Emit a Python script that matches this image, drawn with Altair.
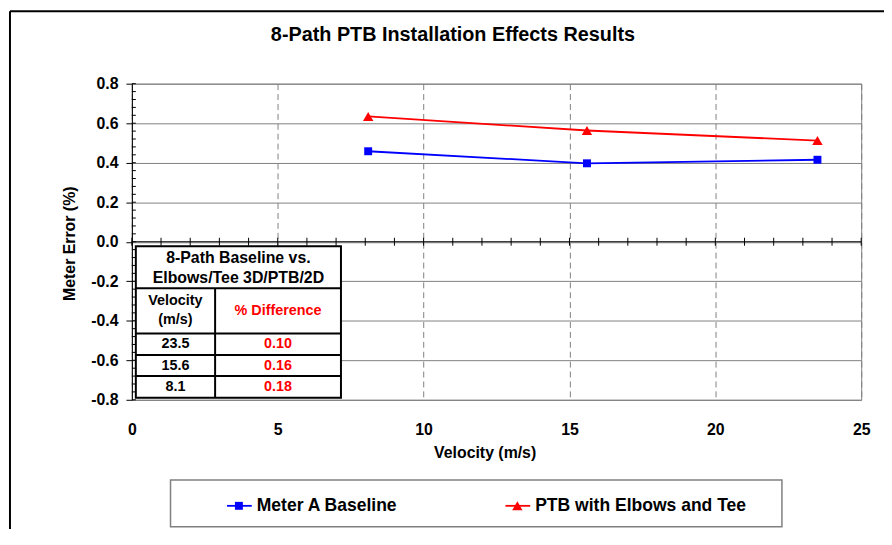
import altair as alt
import pandas as pd

# ---------------- data ----------------
velocity = [8.1, 15.6, 23.5]
meter_a = [0.458, 0.397, 0.415]
ptb = [0.634, 0.563, 0.512]
series_names = ["Meter A Baseline", "PTB with Elbows and Tee"]
series_colors = ["#0000FF", "#FF0000"]
series_shapes = ["square", "triangle-up"]
series_sizes = [64, 110]

table_title = ["8-Path Baseline vs.", "Elbows/Tee 3D/PTB/2D"]
table_head = ["Velocity", "(m/s)"]
table_head2 = "% Difference"
table_velocity = ["23.5", "15.6", "8.1"]
table_diff = ["0.10", "0.16", "0.18"]

x_ticks = [0, 5, 10, 15, 20, 25]
y_ticks = [-0.8, -0.6, -0.4, -0.2, 0.0, 0.2, 0.4, 0.6, 0.8]
x_minor = list(range(0, 26))
y_minor = [round(-0.8 + 0.04 * i, 2) for i in range(41)]

title_text = "8-Path PTB Installation Effects Results"
x_title = "Velocity (m/s)"
y_title = "Meter Error (%)"

W, H = 736, 319
FONT = "Liberation Sans"

df = pd.DataFrame({
    "v": velocity * 2,
    "err": meter_a + ptb,
    "series": [series_names[0]] * 3 + [series_names[1]] * 3,
})

xs = alt.Scale(domain=[0, 25], nice=False, zero=False)
ys = alt.Scale(domain=[-0.8, 0.8], nice=False, zero=False)
color = alt.Color("series:N", scale=alt.Scale(domain=series_names, range=series_colors), legend=None)
shape = alt.Shape("series:N", scale=alt.Scale(domain=series_names, range=series_shapes), legend=None)
size = alt.Size("series:N", scale=alt.Scale(domain=series_names, range=series_sizes), legend=None)

XAX = alt.Axis(
    values=x_ticks, title=x_title, grid=True, gridDash=[6, 4], gridColor="#808080",
    ticks=False, tickSize=0, domain=False, labelFont=FONT, labelFontSize=16,
    labelFontWeight="bold", labelPadding=22, labelFlush=False, labelColor="black",
    labelOverlap=False,
    titleFont=FONT, titleFontSize=16, titleFontWeight="bold", titleColor="black",
    titleX=356, titleY=53, titleBaseline="middle")
YAX = alt.Axis(
    values=y_ticks, title=y_title, grid=True, gridColor="#808080",
    labelExpr="(datum.value < -0.001 ? '-' : '') + format(abs(datum.value), '.1f')",
    domainColor="black", tickColor="black", tickSize=6, labelPadding=8,
    labelOverlap=False, labelFlush=False,
    labelFont=FONT, labelFontSize=16, labelFontWeight="bold", labelColor="black",
    titleFont=FONT, titleFontSize=16, titleFontWeight="bold", titleColor="black",
    titleX=-63, titleY=161, titleBaseline="middle", titleAlign="center")

one = pd.DataFrame({"a": [0]})

zero_line = alt.Chart(one).mark_rule(color="black", strokeWidth=1).encode(
    y=alt.datum(0, scale=ys, axis=YAX), x=alt.value(0), x2=alt.value(W))

xm = alt.Chart(pd.DataFrame({"t": x_minor})).mark_rule(
    color="black", strokeWidth=1, yOffset=-4, y2Offset=4).encode(
    x=alt.X("t:Q", scale=xs, axis=XAX), y=alt.datum(0, scale=ys, axis=YAX), y2=alt.datum(0))

ym = alt.Chart(pd.DataFrame({"t": y_minor})).mark_rule(
    color="black", strokeWidth=1, x2Offset=4).encode(
    y=alt.Y("t:Q", scale=ys, axis=YAX), x=alt.datum(0, scale=xs, axis=XAX), x2=alt.datum(0))

lines = alt.Chart(df).mark_line(strokeWidth=1.8).encode(
    x=alt.X("v:Q", scale=xs, axis=XAX), y=alt.Y("err:Q", scale=ys, axis=YAX),
    color=color, detail="series:N")
points = alt.Chart(df).mark_point(filled=True, opacity=1).encode(
    x=alt.X("v:Q", scale=xs, axis=XAX), y=alt.Y("err:Q", scale=ys, axis=YAX),
    color=color, shape=shape, size=size)

# ---------------- table ----------------
TX0, TX1, TY0, TY1 = 4, 211, 164, 317
COLX = 84
ROWY = [206.5, 252, 273.7, 295]

tbl_box = alt.Chart(one).mark_rect(fill="white", stroke="black", strokeWidth=2).encode(
    x=alt.value(TX0), x2=alt.value(TX1), y=alt.value(TY0), y2=alt.value(TY1))
hl = alt.Chart(pd.DataFrame({"yy": ROWY})).mark_rule(color="black", strokeWidth=2).encode(
    y=alt.Y("yy:Q", scale=None), x=alt.value(TX0), x2=alt.value(TX1))
vl = alt.Chart(one).mark_rule(color="black", strokeWidth=2).encode(
    x=alt.value(COLX), y=alt.value(ROWY[0]), y2=alt.value(TY1))

ttl = alt.Chart(pd.DataFrame({"t": table_title, "yy": [176, 196]})).mark_text(
    font=FONT, fontSize=16, fontWeight="bold", color="black", baseline="middle").encode(
    text="t:N", y=alt.Y("yy:Q", scale=None), x=alt.value((TX0 + TX1) / 2))
hd = alt.Chart(pd.DataFrame({"t": table_head, "yy": [219, 239]})).mark_text(
    font=FONT, fontSize=14.5, fontWeight="bold", color="black", baseline="middle").encode(
    text="t:N", y=alt.Y("yy:Q", scale=None), x=alt.value((TX0 + COLX) / 2))
hd2 = alt.Chart(one).mark_text(
    font=FONT, fontSize=14.5, fontWeight="bold", color="#FF0000", baseline="middle").encode(
    text=alt.value(table_head2), y=alt.value(229), x=alt.value((COLX + TX1) / 2))

tdf = pd.DataFrame({"vel": table_velocity, "diff": table_diff, "row": [0, 1, 2]})
tvals = alt.Chart(tdf).transform_calculate(
    yy=f"{(ROWY[1] + ROWY[2]) / 2} + datum.row * {(TY1 - ROWY[1]) / 3}")
tv1 = tvals.mark_text(font=FONT, fontSize=14.5, fontWeight="bold", color="black",
                      baseline="middle").encode(
    text="vel:N", y=alt.Y("yy:Q", scale=None), x=alt.value((TX0 + COLX) / 2))
tv2 = tvals.mark_text(font=FONT, fontSize=14.5, fontWeight="bold", color="#FF0000",
                      baseline="middle").encode(
    text="diff:N", y=alt.Y("yy:Q", scale=None), x=alt.value((COLX + TX1) / 2))

# ---------------- legend ----------------
leg_box = alt.Chart(one).mark_rect(fill="white", stroke="#808080", strokeWidth=1.5).encode(
    x=alt.value(39), x2=alt.value(656), y=alt.value(400), y2=alt.value(447))
ldf = pd.DataFrame({
    "series": series_names,
    "lx0": [96, 377], "lx1": [121, 402], "px": [108, 389], "tx": [126, 407],
})
leg_lines = alt.Chart(ldf).mark_rule(strokeWidth=1.8).encode(
    x=alt.X("lx0:Q", scale=None), x2="lx1:Q", y=alt.value(426), color=color)
leg_pts = alt.Chart(ldf).mark_point(filled=True, opacity=1).encode(
    x=alt.X("px:Q", scale=None), y=alt.value(426), color=color, shape=shape, size=size)
leg_txt = alt.Chart(ldf).mark_text(font=FONT, fontSize=17.7, fontWeight="bold", color="black",
                                   align="left", baseline="middle").encode(
    x=alt.X("tx:Q", scale=None), y=alt.value(426), text="series:N")

# ---------------- title and outer frame ----------------
title = alt.Chart(one).mark_text(font=FONT, fontSize=20, fontWeight="bold", color="black",
                                 baseline="middle").encode(
    text=alt.value(title_text), x=alt.value(324), y=alt.value(-49))
frame_l = alt.Chart(one).mark_rule(color="black", strokeWidth=2).encode(
    x=alt.value(-123), y=alt.value(-73), y2=alt.value(470))
frame_t = alt.Chart(one).mark_rule(color="black", strokeWidth=2).encode(
    y=alt.value(-73), x=alt.value(-123), x2=alt.value(770))

chart = alt.layer(
    zero_line, xm, ym, lines, points,
    tbl_box, hl, vl, ttl, hd, hd2, tv1, tv2,
    leg_box, leg_lines, leg_pts, leg_txt,
    title, frame_l, frame_t,
).properties(
    width=W, height=H,
    autosize=alt.AutoSizeParams(type="none"),
    padding={"left": 125, "top": 74, "right": 23, "bottom": 128},
).configure_view(stroke="#808080", strokeWidth=1).resolve_scale(color="shared", shape="shared")

chart.save("out.html", embed_options={"renderer": "svg", "actions": False})
